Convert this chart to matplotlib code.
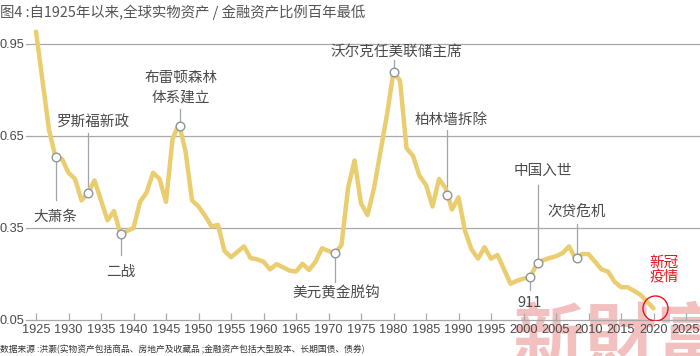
import matplotlib.pyplot as plt
import numpy as np

plt.rcParams['font.family'] = ['Noto Sans CJK SC', 'DejaVu Sans']

TITLE = "图4 :自1925年以来,全球实物资产 / 金融资产比例百年最低"
SOURCE = "数据来源 :洪灏(实物资产包括商品、房地产及收藏品 ;金融资产包括大型股本、长期国债、债券)"

years = np.arange(1925, 2021)
ratio = [0.99, 0.83, 0.67, 0.58, 0.575, 0.53, 0.51, 0.44, 0.465, 0.505,
         0.44, 0.375, 0.405, 0.33, 0.34, 0.35, 0.435, 0.465, 0.53, 0.51,
         0.435, 0.64, 0.69, 0.60, 0.44, 0.42, 0.39, 0.355, 0.36, 0.275,
         0.255, 0.272, 0.29, 0.252, 0.248, 0.24, 0.215, 0.232, 0.222, 0.211,
         0.208, 0.233, 0.213, 0.24, 0.284, 0.275, 0.267, 0.295, 0.48, 0.57,
         0.43, 0.392, 0.48, 0.60, 0.72, 0.86, 0.83, 0.61, 0.585, 0.52,
         0.49, 0.42, 0.51, 0.48, 0.41, 0.45, 0.34, 0.28, 0.25, 0.287,
         0.25, 0.262, 0.215, 0.168, 0.178, 0.185, 0.19, 0.23, 0.245, 0.252,
         0.258, 0.268, 0.29, 0.25, 0.265, 0.265, 0.24, 0.215, 0.208, 0.175,
         0.157, 0.157, 0.145, 0.132, 0.11, 0.088]

yticks = [0.05, 0.35, 0.65, 0.95]
xticks = np.arange(1925, 2026, 5)

# events: year on the line, label
event_years = [1928, 1933, 1938, 1947.1, 1971, 1980, 1988.3, 2001, 2002.3, 2008.2]
event_labels = ["大萧条", "罗斯福新政", "二战", "布雷顿森林\n体系建立", "美元黄金脱钩",
                "沃尔克任美联储主席", "柏林墙拆除", "911", "中国入世", "次贷危机"]
# label layout: (line end value, label x, label y)
label_pos = [(0.441, 1928.0, 0.386), (0.66, 1933.8, 0.696), (0.262, 1938.1, 0.207),
             (0.738, 1947.3, 0.839), (0.175, 1971.15, 0.137), (0.898, 1980.4, 0.923),
             (0.669, 1988.8, 0.702), (0.148, 2001.0, 0.106), (0.49, 2003.0, 0.536),
             (0.363, 2008.2, 0.403)]

covid_year = 2020
covid_label = "新冠\n疫情"

LINE = '#e9cd6f'
GRID = '#a8a8a8'
TXT = '#4a4a4a'
RED = '#e6161e'
NUMFONT = 'Liberation Sans'

fig = plt.figure(figsize=(7, 3.56), dpi=100)
ax = fig.add_axes([26 / 700, 36 / 356, 674 / 700, (320 - 19.4) / 356])
ax.set_facecolor('none')

# watermark
fig.text(512 / 700, -0.02, "新財富", fontsize=52, color='#f3c0c0', fontweight='bold',
         ha='left', va='baseline', zorder=-1)

ax.set_xlim(1923.46, 2027.15)
ax.set_ylim(0.05, 1.03)

for v in yticks[1:]:
    ax.axhline(v, color=GRID, lw=0.9, zorder=1)

ax.plot(years, ratio, color=LINE, lw=3.2, solid_joinstyle='round', solid_capstyle='round', zorder=3)

for yr, lab, (lend, lx, ly) in zip(event_years, event_labels, label_pos):
    yv = np.interp(yr, years, ratio)
    ax.plot([yr, yr], [yv, lend], color='#9ea4aa', lw=0.9, zorder=2)
    ax.plot(yr, yv, 'o', ms=6.2, mfc='white', mec='#8d949b', mew=1.0, zorder=4)
    for i, line in enumerate(lab.split("\n")):
        ax.annotate(line, (lx, ly), xytext=(0, -i * 14.4), textcoords='offset points',
                    ha='center', va='center', fontsize=10.5, color=TXT)

cv = np.interp(covid_year, years, ratio)
ax.plot(covid_year + 0.2, cv, 'o', ms=18, mfc='none', mec=RED, mew=1.0, zorder=5)
for i, line in enumerate(covid_label.split("\n")):
    ax.annotate(line, (2021.6, 0.235), xytext=(0, -i * 10.3), textcoords='offset points',
                ha='center', va='center', fontsize=10.5, color=RED)

for s in ['top', 'right', 'left']:
    ax.spines[s].set_visible(False)
ax.spines['bottom'].set_color(GRID)
ax.spines['bottom'].set_linewidth(0.9)

ax.set_xticks(xticks)
ax.set_xticklabels([str(x) for x in xticks], family=NUMFONT, fontsize=9.2, color=TXT)
ax.tick_params(axis='x', direction='in', length=5, color=GRID, width=0.9, pad=3)
ax.set_yticks(yticks)
ax.set_yticklabels([f"{v:.2f}" for v in yticks], family=NUMFONT, fontsize=9.2, color=TXT)
ax.tick_params(axis='y', length=0, pad=1)

fig.text(0.0, 1 - 12 / 356, TITLE, fontsize=10.4, color='#555555', ha='left', va='center')
fig.text(0.0, 1 - 349 / 356, SOURCE, fontsize=6.3, color='#333333', ha='left', va='center')

fig.savefig('out.png', dpi=100)
